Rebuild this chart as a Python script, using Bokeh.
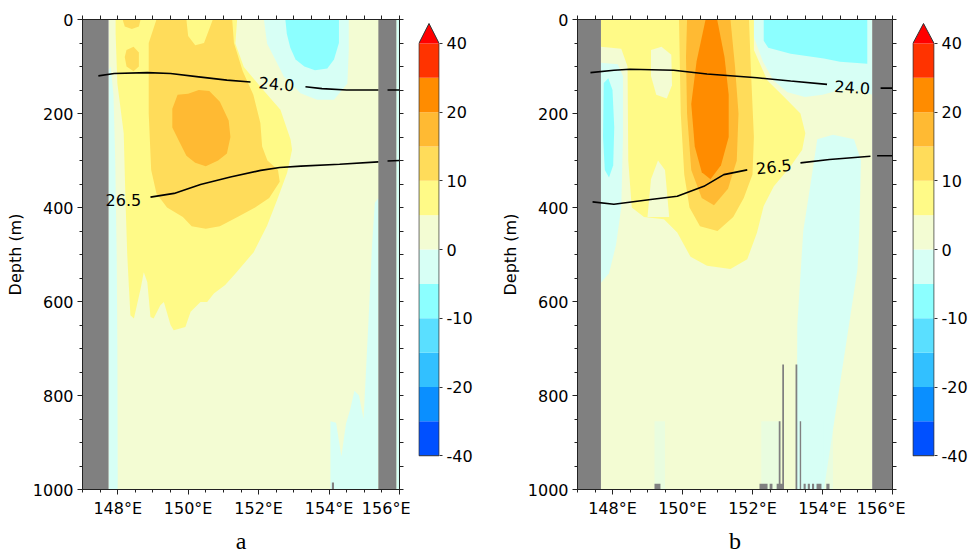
import numpy as np
from bokeh.plotting import figure
from bokeh.models import Range1d, LinearAxis, FixedTicker
from bokeh.layouts import row
from bokeh.embed import file_html
from bokeh.resources import INLINE
from bokeh.core.properties import value

nan = float("nan")

# ---------------- colour scale ----------------
levels = [-40, -30, -20, -15, -10, -5, 0, 5, 10, 15, 20, 30, 40]
level_colors = ["#0050FF", "#0A8FFF", "#32C0FF", "#5ADFFF", "#8CFFFF", "#D7FFF5",
                "#F3FCD3", "#FFFA87", "#FFDC5A", "#FFBA33", "#FF8C00", "#FF3300"]
extend_color = "#FF0000"
cbar_ticks = [-40, -20, -10, 0, 10, 20, 40]

lon_ticks = [148, 150, 152, 154, 156]
lon_labels = ["148°E", "150°E", "152°E", "154°E", "156°E"]
depth_ticks = [0, 200, 400, 600, 800, 1000]

# ---------------- panel a ----------------
a_ocean_lon = [147.74, 156.0]
a_land_w = [147.0, 147.74]
a_land_e = [155.40, 155.91]

a_neg5_west_lon = [147.74, 147.80, 147.88, 147.93, 147.97, 147.99, 148.00, 147.74]
a_neg5_west_dep = [110, 100, 160, 300, 500, 700, 1000, 1000]
a_neg5_edge_lon = [155.91, 156.0, 156.0, 155.91]
a_neg5_edge_dep = [0, 0, 1000, 1000]
a_neg5_se_lon = [154.04, 154.04, 154.20, 154.35, 154.48, 154.60, 154.72, 154.85, 154.98, 155.12, 155.22, 155.30, 155.40, 155.40]
a_neg5_se_dep = [1000, 855, 858, 930, 860, 830, 790, 800, 850, 640, 480, 390, 380, 1000]
a_neg5_ne_lon = [152.15, 154.56, 154.56, 154.52, 154.14, 153.66, 153.19, 152.72, 152.24]
a_neg5_ne_dep = [0, 0, 65, 136, 171, 171, 157, 122, 51]
a_neg10_ne_lon = [152.76, 154.28, 154.28, 154.14, 153.95, 153.60, 153.30, 153.05, 152.90, 152.80]
a_neg10_ne_dep = [0, 0, 50, 85, 104, 108, 100, 85, 60, 30]
a_pos5_lon = [147.94, 151.39, 151.34, 151.58, 152.05, 152.62, 152.91, 152.95, 152.81, 152.53, 152.24, 151.86,
              151.35, 151.05, 150.73, 150.54, 150.35, 150.07, 149.92, 149.59, 149.50, 149.31, 149.21, 149.02,
              148.93, 148.84, 148.74, 148.65, 148.46, 148.36, 148.32, 148.27, 148.22, 148.17, 147.99, 147.94]
a_pos5_dep = [0, 0, 51, 101, 143, 192, 256, 277, 326, 383, 439, 495,
              540, 565, 583, 601, 601, 622, 654, 661, 650, 601, 608, 636,
              633, 559, 538, 573, 636, 629, 573, 500, 383, 242, 136, 30]
a_pos10_lon = [148.88, 149.10, 149.95, 150.00, 150.20, 150.45, 150.60, 150.70, 151.25, 151.30, 151.55, 151.85,
               152.05, 152.10, 152.25, 152.55, 152.60, 152.30, 151.90, 151.40, 150.90, 150.50, 150.10, 149.85,
               149.40, 149.10, 148.95, 148.88]
a_pos10_dep = [50, 0, 0, 35, 55, 50, 20, 0, 0, 50, 110, 160,
               220, 270, 300, 320, 345, 380, 400, 420, 440, 445, 440, 420,
               400, 370, 320, 200]
a_pos10_top_lon = [148.14, 148.65, 148.60, 148.40, 148.20]
a_pos10_top_dep = [0, 0, 15, 20, 15]
a_pos10_blob_lon = [148.25, 148.45, 148.60, 148.60, 148.45, 148.25, 148.20]
a_pos10_blob_dep = [65, 58, 70, 100, 110, 100, 80]
a_pos15_lon = [149.55, 149.70, 150.00, 150.30, 150.60, 150.90, 151.15, 151.20, 151.10, 150.85, 150.50, 150.20, 149.95, 149.75, 149.55]
a_pos15_dep = [190, 160, 158, 150, 152, 175, 215, 250, 285, 300, 312, 305, 290, 260, 230]

a_bathy_l = [154.08]
a_bathy_r = [154.14]
a_bathy_top = [985]

a_iso240_lon = [147.45, 147.90, 148.84, 149.50, 150.30, 151.10, 151.77, nan, 153.33, 153.80, 154.50, 155.40, nan, 155.66, 156.0]
a_iso240_dep = [120, 115, 113, 115, 122, 129, 133, nan, 143, 147, 150, 150, nan, 150, 150]
a_iso265_lon = [148.93, 149.60, 150.35, 151.20, 152.06, 152.60, 153.20, 154.30, 155.40, nan, 155.66, 156.0]
a_iso265_dep = [378, 370, 351, 335, 321, 315, 312, 308, 303, nan, 301, 300]
a_lab_lon = [152.51, 148.16]
a_lab_dep = [137, 383]
a_lab_txt = ["24.0", "26.5"]
a_lab_ang = [-0.085, 0.0]

# ---------------- panel b ----------------
b_ocean_lon = [147.67, 155.42]
b_land_w = [147.0, 147.67]
b_land_e = [155.42, 156.0]

b_neg5_west_lon = [147.67, 148.15, 148.30, 148.30, 148.25, 148.10, 147.90, 147.67]
b_neg5_west_dep = [92, 95, 120, 250, 400, 480, 540, 560]
b_neg10_west_lon = [147.75, 147.88, 148.00, 148.05, 148.02, 147.90, 147.78, 147.73]
b_neg10_west_dep = [135, 125, 150, 230, 310, 336, 320, 250]
b_neg5_ne_lon = [151.95, 155.42, 155.42, 155.00, 154.50, 154.00, 153.50, 153.00, 152.60, 152.30, 152.05]
b_neg5_ne_dep = [0, 0, 160, 150, 150, 160, 165, 155, 130, 90, 40]
b_neg10_ne_lon = [152.32, 155.28, 155.28, 154.50, 154.04, 153.09, 152.45, 152.32]
b_neg10_ne_dep = [0, 0, 94, 90, 83, 73, 60, 45]
b_neg5_east_lon = [153.85, 154.30, 154.90, 155.10, 155.05, 155.00, 154.04, 153.26, 153.28, 153.45, 153.70]
b_neg5_east_dep = [255, 245, 255, 300, 450, 531, 1000, 1000, 650, 450, 330]
b_pos5_lon = [147.67, 152.04, 152.04, 152.42, 152.89, 153.37, 153.51, 153.42, 153.09, 152.61, 152.32, 152.13,
              151.85, 151.37, 150.70, 150.23, 149.85, 149.47, 148.90, 148.55, 148.45, 148.43, 148.25, 147.67]
b_pos5_dep = [0, 0, 65, 129, 164, 200, 242, 277, 312, 355, 397, 453,
              510, 531, 524, 505, 453, 425, 420, 400, 300, 100, 62, 58]
b_pos0_hole_lon = [149.10, 149.40, 149.68, 149.70, 149.55, 149.25, 149.10]
b_pos0_hole_dep = [65, 58, 75, 140, 168, 160, 120]
b_pos0_notch_lon = [149.00, 149.10, 149.30, 149.50, 149.62]
b_pos0_notch_dep = [420, 340, 300, 320, 420]
b_pos10_lon = [149.90, 151.90, 151.95, 152.04, 152.00, 151.75, 151.45, 151.00, 150.50, 150.20, 150.05, 149.95]
b_pos10_dep = [0, 0, 100, 250, 330, 380, 420, 450, 440, 400, 330, 200]
b_pos15_lon = [150.13, 151.37, 151.50, 151.60, 151.55, 151.30, 150.90, 150.55, 150.25, 150.13, 150.10]
b_pos15_dep = [0, 0, 100, 200, 300, 360, 395, 380, 320, 200, 80]
b_pos20_lon = [150.66, 150.99, 151.20, 151.32, 151.32, 151.10, 150.80, 150.55, 150.35, 150.25, 150.40]
b_pos20_dep = [0, 0, 80, 160, 250, 310, 340, 325, 270, 180, 90]

b_streak_l = [149.20, 152.25, 154.04]
b_streak_r = [149.50, 152.80, 154.30]
b_streak_top = [855, 855, 855]

b_bathy_l = [149.20, 152.20, 152.49, 152.69, 152.75, 152.85, 153.23, 153.35, 153.46, 153.58, 153.70, 153.83, 154.11]
b_bathy_r = [149.37, 152.43, 152.57, 152.88, 152.80, 152.90, 153.28, 153.39, 153.52, 153.64, 153.76, 153.97, 154.20]
b_bathy_top = [988, 988, 988, 988, 855, 734, 734, 855, 988, 988, 988, 988, 988]

b_iso240_lon = [147.37, 148.04, 148.50, 149.75, 150.70, 152.13, 153.09, 154.13, nan, 155.66, 156.0]
b_iso240_dep = [113, 108, 106, 108, 116, 124, 131, 138, nan, 146, 146]
b_iso265_lon = [147.43, 148.04, 149.09, 149.85, 150.61, 151.18, 151.85, nan, 153.37, 154.20, 155.37, nan, 155.56, 156.0]
b_iso265_dep = [388, 393, 383, 376, 355, 330, 320, nan, 305, 298, 291, nan, 290, 290]
b_lab_lon = [154.85, 152.61]
b_lab_dep = [144, 313]
b_lab_txt = ["24.0", "26.5"]
b_lab_ang = [-0.07, 0.11]

LAND = "#808080"
AX = "#222222"
H = 556
TOP = 19
BOTTOM = 64


def style_axis(ax, ticks, minor):
    ax.ticker = FixedTicker(ticks=ticks, minor_ticks=minor)
    ax.major_tick_in = 0
    ax.major_tick_out = 5
    ax.minor_tick_in = 0
    ax.minor_tick_out = 3
    ax.axis_line_color = AX
    ax.major_tick_line_color = AX
    ax.minor_tick_line_color = AX
    ax.major_label_text_font = "DejaVu Sans"
    ax.major_label_text_font_size = "16px"
    ax.major_label_text_color = "black"
    ax.major_label_standoff = 4


def mirror_axis(positions):
    ax = LinearAxis(ticker=FixedTicker(ticks=[], minor_ticks=positions))
    ax.axis_line_color = AX
    ax.minor_tick_in = 0
    ax.minor_tick_out = 4
    ax.minor_tick_line_color = AX
    return ax


def panel(width, bl, br, ocean, land_w, land_e, regions, streaks, bathy, isolines, labs, letter):
    p = figure(width=width, height=H, x_range=Range1d(147, 156), y_range=Range1d(1000, 0),
               output_backend="svg", toolbar_location=None,
               min_border_left=bl, min_border_right=br, min_border_top=TOP, min_border_bottom=BOTTOM)
    p.grid.visible = False
    p.outline_line_color = AX
    base = level_colors[levels.index(0)]
    p.quad(left=[ocean[0]], right=[ocean[1]], top=[0], bottom=[1000], fill_color=base, line_color=None)
    for lev, lo, de in regions:
        c = level_colors[levels.index(lev)]
        p.patch(lo, de, fill_color=c, line_color=None)
    if streaks is not None:
        sl, sr, st = streaks
        p.quad(left=sl, right=sr, top=st, bottom=[1000] * len(sl),
               fill_color=level_colors[levels.index(-5)], fill_alpha=0.35, line_color=None)
    p.quad(left=[land_w[0], land_e[0]], right=[land_w[1], land_e[1]], top=[0, 0], bottom=[1000, 1000],
           fill_color=LAND, line_color=None)
    bl_, br_, bt_ = bathy
    p.quad(left=bl_, right=br_, top=bt_, bottom=[1000] * len(bl_), fill_color=LAND, line_color=None)
    for lo, de in isolines:
        p.line(lo, de, line_color="black", line_width=1.6)
    lx, ly, lt, la = labs
    p.text(x=lx, y=ly, text=lt, angle=la, text_font=value("DejaVu Sans"), text_font_size="16px",
           text_align="center", text_baseline="middle", text_color="black")

    lon_minor = list(np.arange(147, 156.01, 0.5))
    dep_minor = list(range(0, 1001, 50))
    style_axis(p.xaxis[0], lon_ticks, lon_minor)
    p.xaxis.major_label_overrides = dict(zip(lon_ticks, lon_labels))
    p.xaxis.axis_label = letter
    p.xaxis.axis_label_text_font = "Liberation Serif"
    p.xaxis.axis_label_text_font_size = "24px"
    p.xaxis.axis_label_text_font_style = "normal"
    p.xaxis.axis_label_text_color = "black"
    p.xaxis.axis_label_standoff = 7
    style_axis(p.yaxis[0], depth_ticks, dep_minor)
    p.yaxis.axis_label = "Depth (m)"
    p.yaxis.axis_label_text_font = "DejaVu Sans"
    p.yaxis.axis_label_text_font_size = "16px"
    p.yaxis.axis_label_text_font_style = "normal"
    p.yaxis.axis_label_text_color = "black"
    p.yaxis.axis_label_standoff = 5

    p.add_layout(mirror_axis(lon_minor), "above")
    p.add_layout(mirror_axis(dep_minor), "right")
    return p


def colorbar(width, bl, br, standoff):
    nb = len(level_colors)
    tri_h = 0.58
    pad_lo, pad_hi = 0.983, 0.116
    cb = figure(width=width, height=H, x_range=Range1d(-0.02, 1.02),
                y_range=Range1d(-pad_lo, nb + tri_h + pad_hi),
                output_backend="svg", toolbar_location=None, y_axis_location="right",
                min_border_left=bl, min_border_right=br, min_border_top=TOP, min_border_bottom=BOTTOM)
    cb.grid.visible = False
    cb.outline_line_color = None
    cb.xaxis.visible = False
    idx = list(range(nb))
    cb.quad(left=0, right=1, bottom=idx, top=[i + 1 for i in idx], fill_color=level_colors, line_color=None)
    cb.patch([0, 1, 0.5], [nb, nb, nb + tri_h], fill_color=extend_color, line_color=None)
    cb.line([0, 1, 1, 0.5, 0, 0], [0, 0, nb, nb + tri_h, nb, 0], line_color="#333333", line_width=1)
    tpos = [levels.index(v) for v in cbar_ticks]
    ax = cb.yaxis[0]
    ax.ticker = FixedTicker(ticks=tpos, minor_ticks=[])
    ax.major_label_overrides = {t: str(v) for t, v in zip(tpos, cbar_ticks)}
    ax.axis_line_color = None
    ax.major_tick_in = 0
    ax.major_tick_out = 3
    ax.major_tick_line_color = "#333333"
    ax.major_label_standoff = standoff
    ax.major_label_text_font = "DejaVu Sans"
    ax.major_label_text_font_size = "16px"
    ax.major_label_text_color = "black"
    return cb


a_regions = [
    (-5, a_neg5_west_lon, a_neg5_west_dep),
    (-5, a_neg5_edge_lon, a_neg5_edge_dep),
    (-5, a_neg5_se_lon, a_neg5_se_dep),
    (-5, a_neg5_ne_lon, a_neg5_ne_dep),
    (-10, a_neg10_ne_lon, a_neg10_ne_dep),
    (5, a_pos5_lon, a_pos5_dep),
    (10, a_pos10_lon, a_pos10_dep),
    (10, a_pos10_top_lon, a_pos10_top_dep),
    (10, a_pos10_blob_lon, a_pos10_blob_dep),
    (15, a_pos15_lon, a_pos15_dep),
]
b_regions = [
    (-5, b_neg5_west_lon, b_neg5_west_dep),
    (-10, b_neg10_west_lon, b_neg10_west_dep),
    (-5, b_neg5_ne_lon, b_neg5_ne_dep),
    (-10, b_neg10_ne_lon, b_neg10_ne_dep),
    (-5, b_neg5_east_lon, b_neg5_east_dep),
    (5, b_pos5_lon, b_pos5_dep),
    (0, b_pos0_hole_lon, b_pos0_hole_dep),
    (0, b_pos0_notch_lon, b_pos0_notch_dep),
    (10, b_pos10_lon, b_pos10_dep),
    (15, b_pos15_lon, b_pos15_dep),
    (20, b_pos20_lon, b_pos20_dep),
]

pa = panel(410, 82, 11, a_ocean_lon, a_land_w, a_land_e, a_regions, None,
           (a_bathy_l, a_bathy_r, a_bathy_top),
           [(a_iso240_lon, a_iso240_dep), (a_iso265_lon, a_iso265_dep)],
           (a_lab_lon, a_lab_dep, a_lab_txt, a_lab_ang), "a")
ca = colorbar(65, 8, 35, 4)
pb = panel(430, 102, 13, b_ocean_lon, b_land_w, b_land_e, b_regions,
           (b_streak_l, b_streak_r, b_streak_top),
           (b_bathy_l, b_bathy_r, b_bathy_top),
           [(b_iso240_lon, b_iso240_dep), (b_iso265_lon, b_iso265_dep)],
           (b_lab_lon, b_lab_dep, b_lab_txt, b_lab_ang), "b")
cbb = colorbar(65, 7, 36, 4)

layout = row(pa, ca, pb, cbb)
open("out.html", "w").write(file_html(layout, INLINE))
